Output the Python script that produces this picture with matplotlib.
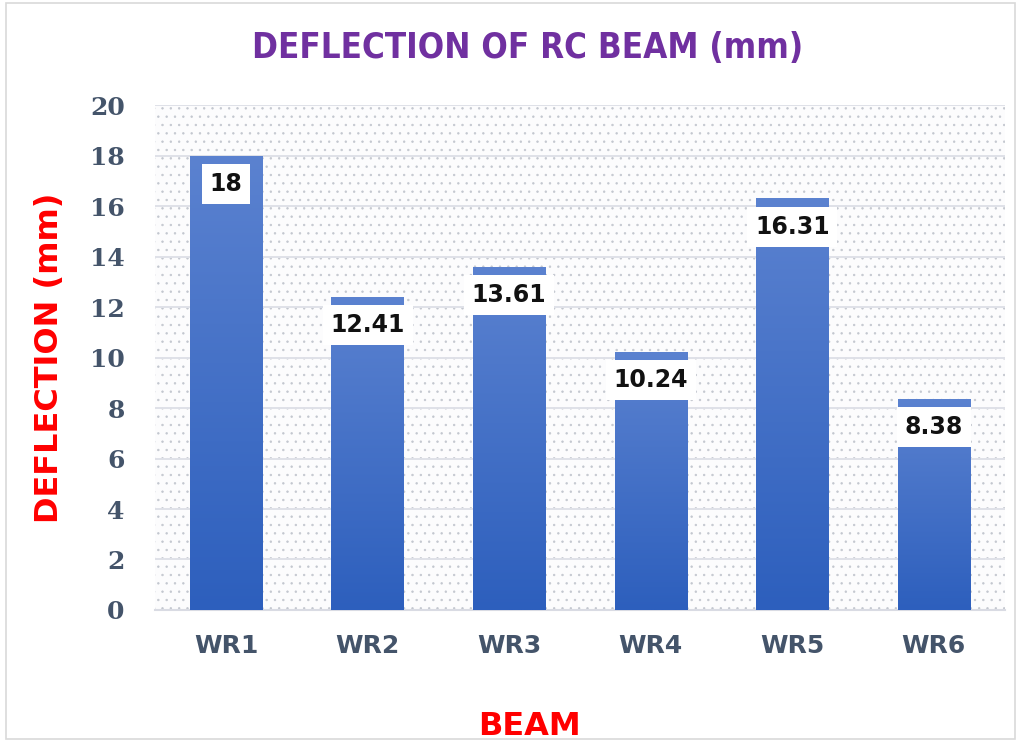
import numpy as np
import matplotlib.pyplot as plt
from matplotlib.patches import Rectangle
from matplotlib.colors import LinearSegmentedColormap

beams = ['WR1', 'WR2', 'WR3', 'WR4', 'WR5', 'WR6']
deflection = [18, 12.41, 13.61, 10.24, 16.31, 8.38]
value_labels = ['18', '12.41', '13.61', '10.24', '16.31', '8.38']

plt.rcParams['hatch.linewidth'] = 0.5
plt.rcParams['hatch.color'] = '#c3c7cf'

fig = plt.figure(figsize=(10.21, 7.42), dpi=100)
ax = fig.add_axes([0.152, 0.178, 0.832, 0.680])

# outer chart border
fig.patches.append(Rectangle((0.006, 0.004), 0.988, 0.992, transform=fig.transFigure,
                             fill=False, edgecolor='#d9d9d9', linewidth=1.2))

# dotted plot area background
ax.add_patch(Rectangle((0, 0), 1, 1, transform=ax.transAxes, facecolor='#fcfcfd',
                       edgecolor='#c3c7cf', hatch='..', linewidth=0, zorder=0))

x = np.arange(len(beams))
bars = ax.bar(x, deflection, width=0.51, color='none', zorder=3)

# gradient fill in each bar
cmap = LinearSegmentedColormap.from_list('blu', ['#2d5fbd', '#5b82d0'])
grad = np.linspace(0, 1, 256).reshape(-1, 1)
for b in bars:
    x0, w, h = b.get_x(), b.get_width(), b.get_height()
    im = ax.imshow(grad, cmap=cmap, origin='lower', aspect='auto',
                   extent=[x0, x0 + w, 0, h], zorder=3)
    im.set_clip_path(b)

# value labels in white boxes
for xi, v, lab in zip(x, deflection, value_labels):
    ax.text(xi, v - 1.12, lab, ha='center', va='center', fontsize=17,
            fontweight='bold', color='#111111', zorder=5,
            bbox=dict(boxstyle='square,pad=0.33', facecolor='white', edgecolor='none'))

ax.set_xlim(-0.5, len(beams) - 0.5)
ax.set_ylim(0, 20)
ax.set_yticks(range(0, 21, 2))
ax.set_xticks(x)
ax.set_xticklabels(beams, fontsize=18, fontweight='bold', color='#44546a')
for t in ax.get_yticklabels():
    t.set_fontfamily('DejaVu Serif')
    t.set_fontweight('bold')
    t.set_fontsize(18)
    t.set_color('#44546a')

ax.grid(axis='y', color='#dfe1e8', linewidth=1.4, zorder=1)
ax.set_axisbelow(True)
for s in ['top', 'right', 'left']:
    ax.spines[s].set_visible(False)
ax.spines['bottom'].set_color('#d9dbe3')
ax.spines['bottom'].set_linewidth(1.5)
ax.tick_params(axis='both', length=0)
ax.tick_params(axis='x', pad=17)
ax.tick_params(axis='y', pad=22)

ax.set_ylabel('DEFLECTION (mm)', fontsize=23, fontweight='bold', color='#ff0000', labelpad=18)
ax.set_xlabel('BEAM', fontsize=23, fontweight='bold', color='#ff0000')
ax.xaxis.set_label_coords(0.441, -0.2)
fig.text(0.5165, 0.935, 'DEFLECTION OF RC BEAM (mm)', ha='center', va='center',
         fontsize=25, fontweight='bold', fontstretch='condensed', color='#7030a0',
         family=['DejaVu Sans'])

fig.savefig('out.png', dpi=100)
